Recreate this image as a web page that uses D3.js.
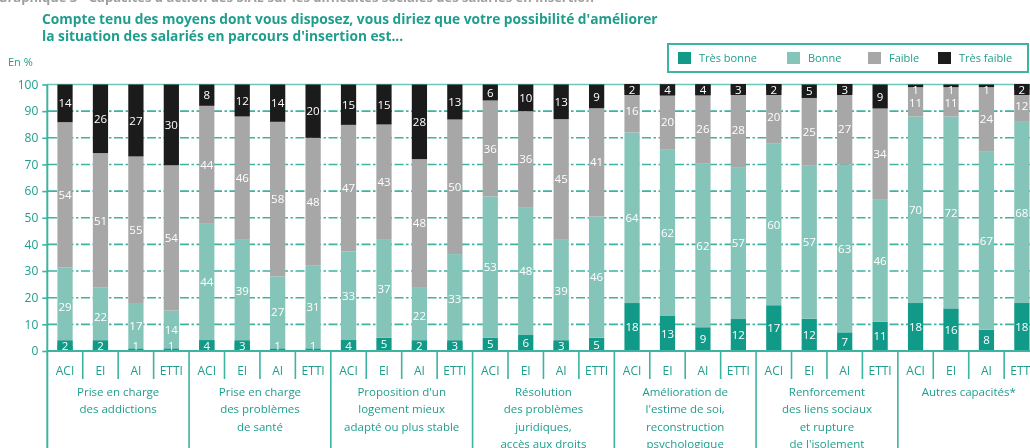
<!DOCTYPE html>
<html><head><meta charset="utf-8">
<script src="https://cdn.jsdelivr.net/npm/d3@7"></script>
<style>body{margin:0;background:#fff}svg{display:block;will-change:transform}</style>
</head><body><svg id="c" width="1030" height="448"></svg>
<script>
// ---- data ----
const groupLabels = [
  ["Prise en charge", "des addictions"],
  ["Prise en charge", "des problèmes", "de santé"],
  ["Proposition d'un", "logement mieux", "adapté ou plus stable"],
  ["Résolution", "des problèmes", "juridiques,", "accès aux droits"],
  ["Amélioration de", "l'estime de soi,", "reconstruction", "psychologique"],
  ["Renforcement", "des liens sociaux", "et rupture", "de l'isolement"],
  ["Autres capacités*"]
];
const subcats = ["ACI", "EI", "AI", "ETTI"];
const seriesNames = ["Très bonne", "Bonne", "Faible", "Très faible"];
const tresBonne  = [[2,2,1,1],[4,3,1,1],[4,5,2,3],[5,6,3,5],[18,13,9,12],[17,12,7,11],[18,16,8,18]];
const bonne      = [[29,22,17,14],[44,39,27,31],[33,37,22,33],[53,48,39,46],[64,62,62,57],[60,57,63,46],[70,72,67,68]];
const faible     = [[54,51,55,54],[44,46,58,48],[47,43,48,50],[36,36,45,41],[16,20,26,28],[20,25,27,34],[11,11,24,12]];
const tresFaible = [[14,26,27,30],[8,12,14,20],[15,15,28,13],[6,10,13,9],[2,4,4,3],[2,5,3,9],[1,1,1,2]];
const yTicks = [0,10,20,30,40,50,60,70,80,90,100];
const titleLines = ["Compte tenu des moyens dont vous disposez, vous diriez que votre possibilité d'améliorer",
                    "la situation des salariés en parcours d'insertion est..."];
const topText = "Graphique 3 • Capacités d'action des SIAE sur les difficultés sociales des salariés en insertion";
const unitLabel = "En %";

// ---- styles ----
const FONT = "'Open Sans', 'Noto Sans', sans-serif";
const TEAL_TXT = "#1f9e8d";
const TEAL_LINE = "#3db3a2";
const colors = ["#129a88", "#85c5b9", "#a7a7a7", "#1b1b1b"];

const svg = d3.select("#c").style("font-family", FONT);
const W = 1030, H = 448;
svg.append("rect").attr("width", W).attr("height", H).attr("fill", "#fff");

// build rows
const rows = [];
groupLabels.forEach((g, gi) => subcats.forEach((s, si) => {
  rows.push({g: gi, s: s, key: gi + "-" + s,
    "Très bonne": tresBonne[gi][si], "Bonne": bonne[gi][si],
    "Faible": faible[gi][si], "Très faible": tresFaible[gi][si]});
}));
const stack = d3.stack().keys(seriesNames).offset(d3.stackOffsetExpand);
const stacked = stack(rows);

// scales
const x0 = d3.scaleBand().domain(d3.range(groupLabels.length)).range([47.3, 1039.6]).paddingInner(0).paddingOuter(0);
const x1 = d3.scaleBand().domain(subcats).range([0, x0.bandwidth()]).paddingInner(0.57).paddingOuter(0.285);
const y = d3.scaleLinear().domain([0, 1]).range([351, 84.5]);
const yPct = d3.scaleLinear().domain([0, 100]).range([351, 84.5]);
const color = d3.scaleOrdinal().domain(seriesNames).range(colors);

// top cropped heading
svg.append("text").attr("x", -2).attr("y", 1.5).attr("fill", "#a0a0a0")
  .attr("font-size", 13).attr("font-weight", "bold").text(topText);

// title (two lines, first fitted to the reference width)
const tts = titleLines.map((t, i) => svg.append("text").attr("x", 42).attr("y", 23.5 + i * 17.5)
  .attr("fill", TEAL_TXT).attr("font-weight", "bold").attr("font-size", 12).text(t));
const fs = 12 * 616 / tts[0].node().getComputedTextLength();
tts.forEach(t => t.attr("font-size", fs));

svg.append("text").attr("x", 8).attr("y", 66).attr("fill", TEAL_TXT).attr("font-size", 11).text(unitLabel);

// legend
const lg = svg.append("g");
lg.append("rect").attr("x", 668).attr("y", 44).attr("width", 360).attr("height", 28)
  .attr("fill", "#fff").attr("stroke", TEAL_LINE).attr("stroke-width", 2);
const legX = [678, 787, 868, 938];
seriesNames.forEach((n, i) => {
  lg.append("rect").attr("x", legX[i]).attr("y", 52).attr("width", 13).attr("height", 12).attr("fill", colors[i]);
  lg.append("text").attr("x", legX[i] + 21).attr("y", 62).attr("fill", TEAL_TXT).attr("font-size", 11).text(n);
});

// gridlines
svg.append("g").selectAll("line").data(yTicks.filter(d => d > 0 && d < 100)).join("line")
  .attr("x1", 48).attr("x2", W).attr("y1", d => yPct(d)).attr("y2", d => yPct(d))
  .attr("stroke", TEAL_LINE).attr("stroke-width", 1.6).attr("stroke-dasharray", "9,2.5,2.5,2.5");
svg.append("line").attr("x1", 47).attr("x2", W).attr("y1", yPct(100)).attr("y2", yPct(100))
  .attr("stroke", "#6cc7ba").attr("stroke-width", 1.6);

// bars
const layers = svg.append("g").selectAll("g").data(stacked).join("g").attr("fill", d => color(d.key));
layers.selectAll("rect").data(d => d).join("rect")
  .attr("x", d => x0(d.data.g) + x1(d.data.s))
  .attr("width", x1.bandwidth())
  .attr("y", d => y(d[1]))
  .attr("height", d => y(d[0]) - y(d[1]));

// value labels (processed per bar from top segment down, avoiding overlaps)
const lab = svg.append("g").attr("font-size", 11.5).attr("text-anchor", "middle");
rows.forEach((r, ri) => {
  let prev = -Infinity;
  for (let li = stacked.length - 1; li >= 0; li--) {
    const layer = stacked[li];
    const d = layer[ri];
    const v = r[layer.key];
    const top = y(d[1]), bot = y(d[0]);
    let cy = (top + bot) / 2;
    cy = Math.max(y(1) + 5, cy, prev + 13);
    cy = Math.min(y(0) - 5, cy);
    prev = cy;
    const cx = x0(r.g) + x1(r.s) + x1.bandwidth() / 2;
    if (bot - top < 11 && v >= 2) {
      lab.append("rect").attr("x", cx - x1.bandwidth() / 2).attr("width", x1.bandwidth())
        .attr("y", cy - 5.5).attr("height", 11).attr("fill", color(layer.key));
    }
    lab.append("text").attr("x", cx).attr("y", cy).attr("dy", "0.36em").attr("fill", "#fff").text(v);
  }
});

// axes lines
svg.append("line").attr("x1", 47.3).attr("x2", W).attr("y1", 351).attr("y2", 351)
  .attr("stroke", TEAL_LINE).attr("stroke-width", 2);
const yAxis = d3.axisLeft(yPct).tickValues(yTicks).tickSize(5).tickPadding(4);
const ya = svg.append("g").attr("transform", "translate(47.3,0)").call(yAxis);
ya.select(".domain").remove();
ya.selectAll("line").attr("stroke", TEAL_LINE).attr("stroke-width", 1.6);
ya.selectAll("text").attr("fill", TEAL_TXT).attr("font-size", 12).attr("font-family", FONT);
svg.append("line").attr("x1", 47.3).attr("x2", 47.3).attr("y1", yPct(100)).attr("y2", H)
  .attr("stroke", TEAL_LINE).attr("stroke-width", 2);

// category separators
const sep = svg.append("g").attr("stroke", TEAL_LINE).attr("stroke-width", 1.6);
groupLabels.forEach((g, gi) => {
  const gx = x0(gi);
  if (gi > 0) sep.append("line").attr("x1", gx).attr("x2", gx).attr("y1", 351).attr("y2", H);
  for (let k = 1; k < subcats.length; k++) {
    const sx = gx + x1.step() * k;
    sep.append("line").attr("x1", sx).attr("x2", sx).attr("y1", 351).attr("y2", 379);
  }
});

// subcat labels
const xl = svg.append("g").attr("fill", TEAL_TXT).attr("text-anchor", "middle");
rows.forEach(r => {
  xl.append("text").attr("x", x0(r.g) + x1(r.s) + x1.bandwidth() / 2).attr("y", 375)
    .attr("font-size", 12).text(r.s);
});
groupLabels.forEach((lines, gi) => {
  lines.forEach((l, li) => xl.append("text").attr("font-size", 11.5)
    .attr("x", x0(gi) + x0.bandwidth() / 2).attr("y", 396 + li * 17.3).text(l));
});
</script></body></html>
